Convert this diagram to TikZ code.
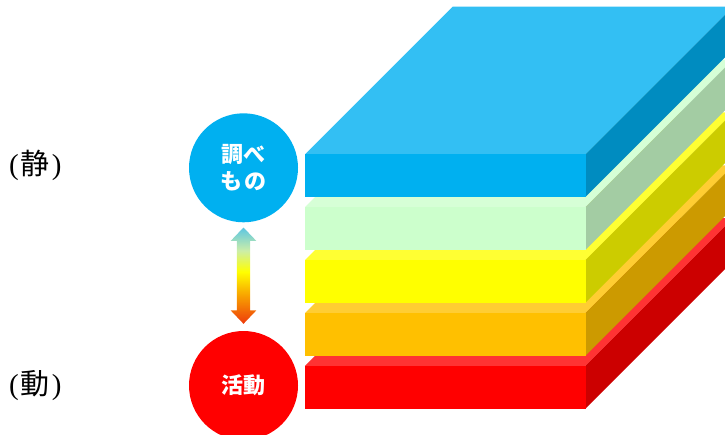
\documentclass[tikz,border=0pt]{standalone}
\usepackage{fontspec}
\setmainfont{Liberation Serif}
\newfontfamily\cjk{Noto Sans CJK JP}
\usetikzlibrary{calc}
\definecolor{bluF}{HTML}{00B0F0}\definecolor{bluT}{HTML}{33BFF3}\definecolor{bluS}{HTML}{008CC0}
\definecolor{grnF}{HTML}{CCFFCC}\definecolor{grnT}{HTML}{D6FFD6}\definecolor{grnS}{HTML}{A3CCA3}
\definecolor{yelF}{HTML}{FFFF00}\definecolor{yelT}{HTML}{FFFF33}\definecolor{yelS}{HTML}{CCCC00}
\definecolor{orgF}{HTML}{FFC000}\definecolor{orgT}{HTML}{FFCD33}\definecolor{orgS}{HTML}{CC9A00}
\definecolor{redF}{HTML}{FF0000}\definecolor{redT}{HTML}{FF3333}\definecolor{redS}{HTML}{CC0000}
\definecolor{arrT}{HTML}{5CC6E2}\definecolor{arrG}{HTML}{CCEEA8}\definecolor{arrY}{HTML}{FFFF00}
\definecolor{arrO}{HTML}{F8A400}\definecolor{arrB}{HTML}{EE3A0C}
\pgfdeclareverticalshading{arrowgrad}{100bp}{color(0bp)=(arrB); color(25bp)=(arrB); color(40bp)=(arrO); color(52bp)=(arrY); color(63bp)=(arrG); color(75bp)=(arrT); color(100bp)=(arrT)}
\begin{document}
\begin{tikzpicture}[x=1pt,y=-1pt,
  disc/.style={circle,inner sep=0pt,minimum size=109pt,text=white,align=center,
    font=\cjk\bfseries\fontsize{22}{27}\selectfont},
  sidelabel/.style={anchor=west,inner sep=0pt,font=\fontsize{29}{31}\selectfont}]
\useasboundingbox (0,0) rectangle (725,434);
\begin{scope}
\clip (0,0) rectangle (725,434);
\foreach \t/\c in {365.9/red,313.0/org,260.1/yel,207.2/grn,154.3/blu}{
  \fill[fill=\c T] (305,\t) -- (585.5,\t) -- (733.2,\t-147.7) -- (452.7,\t-147.7) -- cycle;
  \fill[fill=\c S] (585.5,\t) -- (733.2,\t-147.7) -- (733.2,\t-105.1) -- (585.5,\t+42.6) -- cycle;
  \fill[fill=\c F] (305,\t) rectangle (585.5,\t+42.6);
}
\end{scope}
\node[disc,fill=bluF] (c1) at (243.5,167.8) {調\hspace{1pt}べ\\も\hspace{2pt}の};
\node[disc,fill=redF] (c2) at (243.5,385.5) {活動};
\coordinate (at) at ($(c1.south)+(0,5)$);
\coordinate (ab) at ($(c2.north)+(0,-7)$);
\shade[shading=arrowgrad] (at) -- ($(at)+(12.8,13.4)$) -- ($(at)+(6.7,13.4)$)
  -- ($(ab)+(6.7,-13.4)$) -- ($(ab)+(12.8,-13.4)$) -- (ab)
  -- ($(ab)+(-12.8,-13.4)$) -- ($(ab)+(-6.7,-13.4)$)
  -- ($(at)+(-6.7,13.4)$) -- ($(at)+(-12.8,13.4)$) -- cycle;
\node[sidelabel] (l1) at (9,165.5) {(\hspace{2pt}{\cjk 静}\hspace{2pt})};
\node[sidelabel] (l2) at (9,385.5) {(\hspace{2pt}{\cjk 動}\hspace{2pt})};
\end{tikzpicture}
\end{document}
